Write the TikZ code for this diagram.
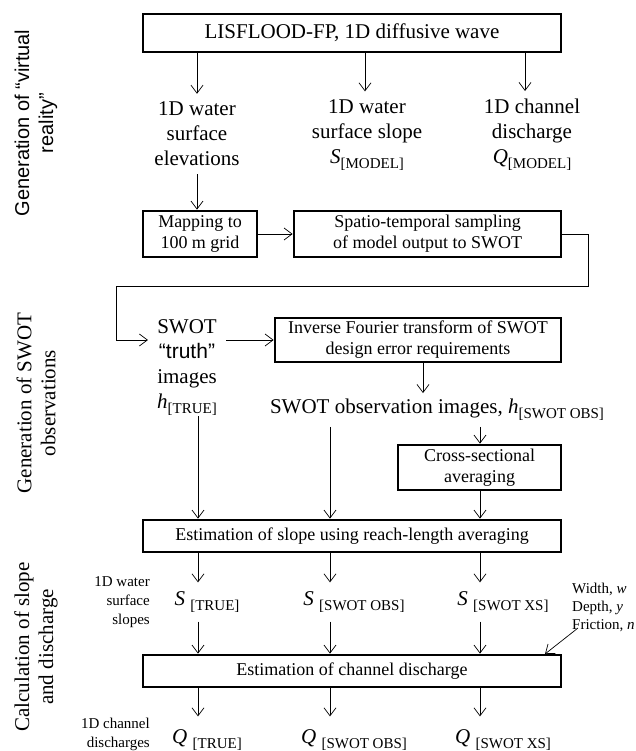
\documentclass[tikz,border=0pt]{standalone}
\usepackage{fontspec}
\setmainfont{Liberation Serif}
\setsansfont{Liberation Sans}
\usetikzlibrary{arrows.meta}
\newcommand\fsz[2]{\fontsize{#1}{#2}\selectfont}
\newcommand\lowsub[1]{\raisebox{-5pt}{\fsz{15}{15}#1}}
\begin{document}
\begin{tikzpicture}[x=1pt,y=-1pt,
  box/.style={draw, line width=2.8pt, inner sep=0pt, align=center, font=\fsz{18}{21}},
  txt/.style={align=center, font=\fsz{21}{25}, inner xsep=2pt, inner ysep=8pt},
  arr/.style={-{Straight Barb[length=8pt,width=12pt]}, line width=0.7pt},
  side/.style={rotate=90, align=center, inner sep=0pt},
  small/.style={font=\fsz{15}{19}, inner sep=0pt}]

\useasboundingbox (0,0) rectangle (635,751);

% column coordinates
\coordinate (cE) at (197,0);
\coordinate (cS) at (365,0);
\coordinate (cQ) at (525,0);
\coordinate (cI) at (423,0);
\coordinate (cA) at (198,0);
\coordinate (cB) at (330,0);
\coordinate (cC) at (480,0);
\coordinate (r1) at (588,286);
\coordinate (l1) at (116,286);
\coordinate (wstart) at (578,628);
\coordinate (wtip) at (545,654);

% boxes
\node[box, minimum width=418pt, minimum height=38pt, font=\fsz{21}{25}] (title) at (352,33) {LISFLOOD-FP, 1D diffusive wave};
\node[box, minimum width=114pt, minimum height=46pt] (map) at (200,234) {Mapping to\\100 m grid};
\node[box, minimum width=267pt, minimum height=46pt] (spat) at (427.5,234) {Spatio-temporal sampling\\of model output to SWOT};
\node[box, minimum width=286pt, minimum height=44pt] (inv) at (418,340) {Inverse Fourier transform of SWOT\\design error requirements};
\node[box, minimum width=163pt, minimum height=45pt] (xs) at (479.5,467.5) {Cross-sectional\\averaging};
\node[box, minimum width=418pt, minimum height=32pt] (slope) at (352,536) {Estimation of slope using reach-length averaging};
\node[box, minimum width=418pt, minimum height=32pt] (dis) at (352,671) {Estimation of channel discharge};

% texts
\node[txt] (elev) at (197,134) {1D water\\surface\\elevations};
\node[txt] (sm) at (367,135) {1D water\\surface slope\\\textit{S}\lowsub{[MODEL]}};
\node[txt] (qm) at (532,135) {1D channel\\discharge\\\textit{Q}\lowsub{[MODEL]}};
\node[txt, inner ysep=0pt, inner xsep=9pt] (truth) at (187,368) {SWOT\\{\sffamily “truth”}\\images\\\textit{h}\lowsub{[TRUE]}};
\node[txt, inner ysep=6pt] (obs) at (437,410) {SWOT observation images, \textit{h}\lowsub{[SWOT OBS]}};

\node[txt, inner ysep=9pt] (sT) at (207,602) {\textit{S} \lowsub{[TRUE]}};
\node[txt, inner ysep=9pt] (sO) at (354,602) {\textit{S} \lowsub{[SWOT OBS]}};
\node[txt, inner ysep=9pt] (sX) at (503,602) {\textit{S} \lowsub{[SWOT XS]}};
\node[txt, inner ysep=13pt] (qT) at (207,740) {\textit{Q} \lowsub{[TRUE]}};
\node[txt, inner ysep=13pt] (qO) at (354,740) {\textit{Q} \lowsub{[SWOT OBS]}};
\node[txt, inner ysep=13pt] (qX) at (503,740) {\textit{Q} \lowsub{[SWOT XS]}};

\node[small, anchor=east, align=right] (lab1) at (150,602) {1D water\\surface\\slopes};
\node[small, anchor=east, align=right] (lab2) at (150,734) {1D channel\\discharges};
\node[small, anchor=west, align=left, font=\fsz{15}{18}] (wdf) at (572,607) {Width, \textit{w}\\Depth, \textit{y}\\Friction, \textit{n}};

% side labels
\node[side, font=\sffamily\fsz{20}{24}] (g1) at (36,123) {Generation of “virtual\\reality”};
\node[side, font=\fsz{21}{24}] (g2) at (36,403) {Generation of SWOT\\observations};
\node[side, font=\fsz{21}{24}] (g3) at (36,647) {Calculation of slope\\and discharge};

% connectors
\draw[arr] (title.south -| cE) -- (elev.north -| cE);
\draw[arr] (title.south -| cS) -- (sm.north -| cS);
\draw[arr] (title.south -| cQ) -- (qm.north -| cQ);
\draw[arr] (elev.south -| cE) -- (map.north -| cE);
\draw[arr] (map.east) -- (spat.west);
\draw[arr] (spat.east) -| (r1) -- (l1) |- (truth.west |- inv.west);
\draw[arr] (truth.east |- inv.west) -- (inv.west);
\draw[arr] (inv.south -| cI) -- (obs.north -| cI);
\draw[arr] (obs.south -| cC) -- (xs.north -| cC);
\draw[arr] (truth.south -| cA) -- (slope.north -| cA);
\draw[arr] (obs.south -| cB) -- (slope.north -| cB);
\draw[arr] (xs.south -| cC) -- (slope.north -| cC);

\draw[arr] (slope.south -| cA) -- (sT.north -| cA);
\draw[arr] (slope.south -| cB) -- (sO.north -| cB);
\draw[arr] (slope.south -| cC) -- (sX.north -| cC);
\draw[arr] (sT.south -| cA) -- (dis.north -| cA);
\draw[arr] (sO.south -| cB) -- (dis.north -| cB);
\draw[arr] (sX.south -| cC) -- (dis.north -| cC);
\draw[arr] (dis.south -| cA) -- (qT.north -| cA);
\draw[arr] (dis.south -| cB) -- (qO.north -| cB);
\draw[arr] (dis.south -| cC) -- (qX.north -| cC);
\draw[arr] (wstart) -- (wtip);
\end{tikzpicture}
\end{document}
